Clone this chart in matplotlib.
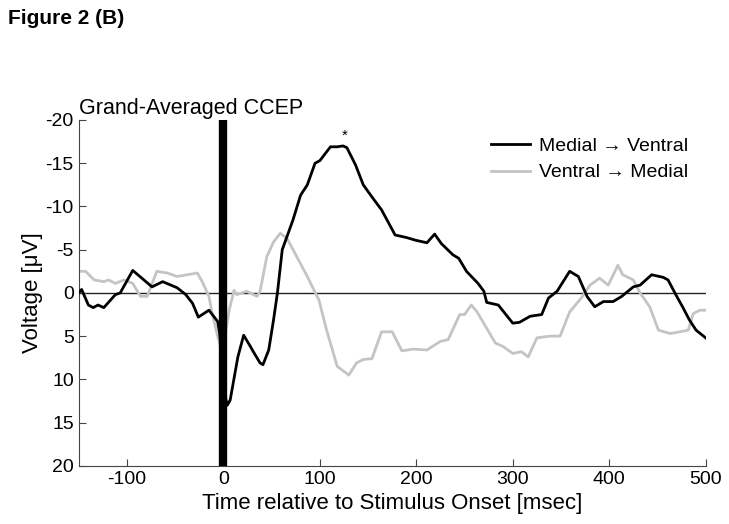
import matplotlib
matplotlib.use("Agg")
import matplotlib.pyplot as plt

plt.rcParams["font.family"] = ["Liberation Sans", "DejaVu Sans"]
plt.rcParams["axes.unicode_minus"] = False

# Medial -> Ventral (black)
mv_t = [-150, -147, -140, -135, -130, -124, -112, -107, -94, -74, -63, -48, -39, -32,
        -26, -15, -6, -4, -1, 2, 4, 7, 15, 21, 28, 31, 38, 41, 47, 52, 56, 61, 72, 80,
        87, 95, 100, 111, 118, 124, 128, 137, 145, 154, 164, 178, 190, 199, 211, 219,
        226, 238, 244, 252, 264, 270, 273, 285, 300, 307, 318, 330, 337, 346, 359, 368,
        377, 385, 394, 404, 413, 425, 432, 444, 456, 461, 470, 476, 483, 490, 500]
mv_v = [0, -0.4, 1.4, 1.7, 1.4, 1.7, 0.2, 0, -2.6, -0.7, -1.3, -0.6, 0.2, 1.2,
        2.8, 2.0, 3.3, 4.6, 8.0, 12.0, 13.0, 12.4, 7.4, 4.9, 6.2, 6.8, 8.1, 8.3, 6.6, 3.1, 0,
        -5.0, -8.4, -11.3, -12.5, -15.0, -15.3, -16.9, -16.9, -17.0, -16.8, -14.8, -12.5,
        -11.1, -9.6, -6.7, -6.4, -6.1, -5.8, -6.8, -5.7, -4.4, -4.0, -2.5, -1.1, -0.2,
        1.1, 1.4, 3.5, 3.4, 2.7, 2.5, 0.6, -0.2, -2.5, -1.9, 0.4, 1.6, 1.0, 1.0, 0.4,
        -0.7, -0.9, -2.1, -1.8, -1.5, 0.4, 1.6, 3.1, 4.3, 5.2]

# Ventral -> Medial (gray)
vm_t = [-150, -143, -134, -124, -119, -112, -103, -94, -86, -79, -69, -58, -48, -27,
        -22, -15, -12, -6, -3, 0, 3, 6, 11, 14, 24, 35, 38, 45, 52, 59, 66, 76, 87,
        94, 99, 107, 118, 130, 138, 145, 154, 164, 175, 185, 197, 211, 225, 233, 245,
        250, 257, 263, 273, 282, 290, 300, 309, 316, 325, 338, 349, 359, 371, 380, 390,
        399, 409, 414, 425, 432, 442, 451, 463, 473, 482, 487, 494, 500]
vm_v = [-2.5, -2.5, -1.5, -1.3, -1.5, -1.1, -1.5, -1.1, 0.4, 0.4, -2.5, -2.3, -1.9, -2.3,
        -1.3, 0.4, 2.2, 5.0, 6.2, 6.0, 4.0, 2.0, -0.3, 0.2, -0.2, 0.4, -0.2, -4.2, -5.9,
        -6.9, -6.3, -4.2, -1.9, -0.3, 0.8, 4.3, 8.5, 9.5, 8.1, 7.7, 7.6, 4.5, 4.5, 6.7,
        6.5, 6.6, 5.6, 5.4, 2.5, 2.5, 1.4, 2.2, 4.1, 5.8, 6.2, 7.0, 6.8, 7.4, 5.2, 5.0,
        5.0, 2.2, 0.6, -0.9, -1.7, -0.9, -3.2, -2.1, -1.5, 0, 1.6, 4.3, 4.7, 4.5, 4.3,
        2.4, 2.0, 2.0]

x_ticks = [-100, 0, 100, 200, 300, 400, 500]
y_ticks = [-20, -15, -10, -5, 0, 5, 10, 15, 20]

fig = plt.figure(figsize=(7.29, 5.24), dpi=100)
ax = fig.add_axes([0.108, 0.111, 0.86, 0.660])

ax.axhline(0, color="#222222", lw=1.0, zorder=1)
ax.plot(vm_t, vm_v, color="#c4c4c4", lw=2.0, label="Ventral \u2192 Medial", zorder=2)
ax.plot(mv_t, mv_v, color="black", lw=2.0, label="Medial \u2192 Ventral", zorder=3)
ax.axvline(0, color="black", lw=6, zorder=4)
ax.text(126, -18.2, "*", ha="center", va="center", fontsize=11)

ax.set_xlim(-150, 500)
ax.set_ylim(20, -20)
ax.set_xticks(x_ticks)
ax.set_yticks(y_ticks)
ax.tick_params(direction="in", labelsize=14, length=5, color="#444444")
for s in ["top", "right"]:
    ax.spines[s].set_visible(False)
for s in ["left", "bottom"]:
    ax.spines[s].set_color("#444444")

ax.set_xlabel("Time relative to Stimulus Onset [msec]", fontsize=16, labelpad=4)
ax.set_ylabel("Voltage [\u03bcV]", fontsize=16, labelpad=2)
ax.set_title("Grand-Averaged CCEP", loc="left", fontsize=15.5, pad=4)

h, l = ax.get_legend_handles_labels()
ax.legend(h[::-1], l[::-1], loc="upper right", frameon=False, fontsize=14,
          handlelength=2.0, handletextpad=0.45, labelspacing=0.45,
          bbox_to_anchor=(1.0, 1.0))

fig.text(0.011, 0.965, "Figure 2 (B)", fontsize=15, fontweight="bold", va="center")

fig.savefig("out.png", dpi=100)
